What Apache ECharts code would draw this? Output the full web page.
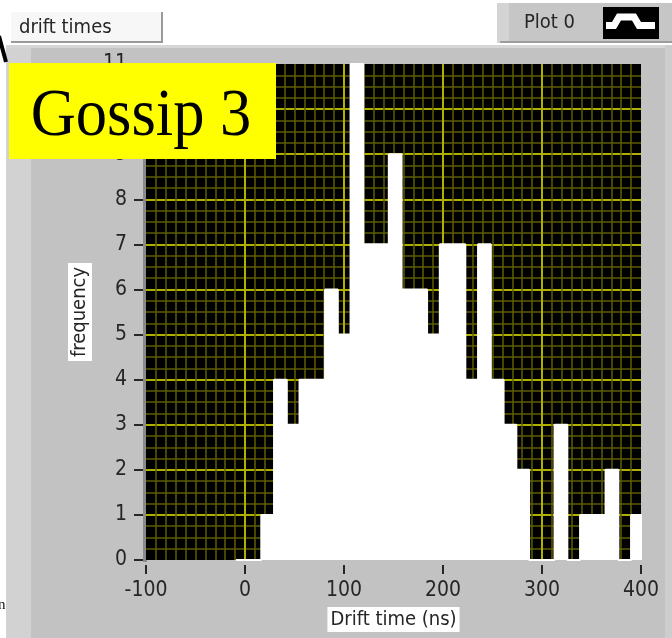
<!DOCTYPE html>
<html>
<head>
<meta charset="utf-8">
<script src="https://cdn.jsdelivr.net/npm/echarts@6/dist/echarts.min.js"></script>
<style>
  html, body { margin: 0; padding: 0; background: #fff; }
  #chart { width: 672px; height: 638px; }
</style>
</head>
<body>
<div id="chart"></div>
<script>
// Drift-time histogram, counts per TDC bin (ns)
const binStart = -9.3;      // left edge of the first bin
const binWidth = 12.88;     // bin width
const counts = [0, 0, 1, 4, 3, 4, 4, 6, 5, 11, 7, 7, 9, 6, 6, 5, 7, 7, 4, 7, 4, 3, 2, 0, 0, 3, 0, 1, 1, 2, 0, 1];

// Axis tick labels
const xTickLabels = [-100, 0, 100, 200, 300, 400];
const yTickLabels = [0, 1, 2, 3, 4, 5, 6, 7, 8, 9, 10, 11];

// Step outline: each bin's left edge carries its count, closed at the last right edge
const stepData = counts.map((c, i) => [binStart + i * binWidth, c]);
stepData.push([binStart + counts.length * binWidth, counts[counts.length - 1]]);

const uiFont = "'DejaVu Sans Condensed', 'DejaVu Sans', 'Liberation Sans', sans-serif";
const inkColor = '#262626';
const majorGrid = '#b0b000';
const minorGrid = '#5e5e00';

const chart = echarts.init(document.getElementById('chart'), null, { renderer: 'canvas' });

chart.setOption({
  animation: false,
  backgroundColor: '#ffffff',
  graphic: [
    // grey front-panel frame
    { type: 'rect', z: -100, shape: { x: 6, y: 45, width: 666, height: 593 }, style: { fill: '#c2c2c2' } },
    { type: 'rect', z: -99, shape: { x: 6, y: 45, width: 25, height: 593 }, style: { fill: '#d2d2d2' } },
    { type: 'rect', z: -99, shape: { x: 6, y: 45, width: 666, height: 3 }, style: { fill: '#d6d6d6' } },
    { type: 'rect', z: -99, shape: { x: 665, y: 45, width: 7, height: 593 }, style: { fill: '#cdcdcd' } },
    // plot-area inset edge on the left
    { type: 'rect', z: -98, shape: { x: 143, y: 63, width: 4, height: 499 }, style: { fill: '#8a8a8a' } },

    // caption box
    { type: 'rect', z: 10, shape: { x: 11, y: 12, width: 152, height: 31 }, style: { fill: '#f7f7f7' } },
    { type: 'rect', z: 11, shape: { x: 161, y: 12, width: 2, height: 31 }, style: { fill: '#9a9a9a' } },
    { type: 'rect', z: 11, shape: { x: 11, y: 41, width: 152, height: 2 }, style: { fill: '#9a9a9a' } },
    { type: 'text', z: 12, x: 19, y: 28, style: { text: 'drift times', font: '20px ' + uiFont, fill: inkColor, verticalAlign: 'middle' } },

    // plot legend box
    { type: 'rect', z: 10, shape: { x: 497, y: 3, width: 175, height: 40 }, style: { fill: '#c6c6c6' } },
    { type: 'rect', z: 11, shape: { x: 497, y: 3, width: 12, height: 40 }, style: { fill: '#d4d4d4' } },
    { type: 'rect', z: 11, shape: { x: 500, y: 41, width: 172, height: 2 }, style: { fill: '#9c9c9c' } },
    { type: 'text', z: 12, x: 524, y: 23, style: { text: 'Plot 0', font: '20px ' + uiFont, fill: inkColor, verticalAlign: 'middle' } },
    { type: 'rect', z: 12, shape: { x: 603, y: 7, width: 56, height: 32 }, style: { fill: '#000' } },
    { type: 'polyline', z: 13, shape: { points: [[606, 25.5], [614, 25.5], [619, 17], [634, 17], [639, 25.5], [655, 25.5]] },
      style: { stroke: '#fff', lineWidth: 7, fill: null, lineJoin: 'miter' } },

    // slide fragments at the left margin
    { type: 'line', z: 20, shape: { x1: -1, y1: 36, x2: 6, y2: 62 }, style: { stroke: '#000', lineWidth: 4 } },
    { type: 'text', z: 20, x: -2, y: 605, style: { text: 'n', font: '15px "Liberation Serif", serif', fill: '#111', verticalAlign: 'middle' } },

    // title badge
    { type: 'rect', z: 50, shape: { x: 9, y: 63, width: 267, height: 96 }, style: { fill: '#ffff00' } },
    { type: 'text', z: 51, x: 141, y: 117, scaleX: 0.92,
      style: { text: 'Gossip 3', font: '68px "Liberation Serif", "Times New Roman", serif', fill: '#000', align: 'center', verticalAlign: 'middle' } }
  ],
  grid: {
    left: 146, right: 31, top: 64, bottom: 78,
    show: true, backgroundColor: '#000000', borderWidth: 0, containLabel: false
  },
  xAxis: {
    type: 'value',
    min: xTickLabels[0],
    max: xTickLabels[xTickLabels.length - 1],
    interval: xTickLabels[1] - xTickLabels[0],
    offset: 5,
    axisLine: { show: true, onZero: false, lineStyle: { color: 'rgba(0,0,0,0)' } },
    axisTick: { show: true, inside: false, length: 9, lineStyle: { color: inkColor, width: 2 } },
    axisLabel: { margin: 15, fontSize: 21, fontFamily: uiFont, color: inkColor },
    splitLine: { show: true, showMinLine: false, showMaxLine: false, lineStyle: { color: majorGrid, width: 2, opacity: 1 } },
    minorTick: { show: false, splitNumber: 10 },
    minorSplitLine: { show: true, lineStyle: { color: minorGrid, width: 1.5, opacity: 1 } },
    name: 'Drift time (ns)',
    nameLocation: 'middle',
    nameGap: 42,
    nameTextStyle: { fontSize: 20, fontFamily: uiFont, color: inkColor, backgroundColor: '#ffffff', padding: [3, 3, 2, 3] }
  },
  yAxis: {
    type: 'value',
    min: yTickLabels[0],
    max: yTickLabels[yTickLabels.length - 1],
    interval: yTickLabels[1] - yTickLabels[0],
    offset: 3,
    axisLine: { show: true, onZero: false, lineStyle: { color: 'rgba(0,0,0,0)' } },
    axisTick: { show: true, inside: false, length: 9, lineStyle: { color: inkColor, width: 2 } },
    axisLabel: { margin: 16, fontSize: 21, fontFamily: uiFont, color: inkColor },
    splitLine: { show: true, showMinLine: false, showMaxLine: false, lineStyle: { color: majorGrid, width: 2, opacity: 1 } },
    minorTick: { show: false, splitNumber: 4 },
    minorSplitLine: { show: true, lineStyle: { color: minorGrid, width: 1.5, opacity: 1 } },
    name: 'frequency',
    nameLocation: 'middle',
    nameRotate: 90,
    nameGap: 51,
    nameTextStyle: { fontSize: 20, fontFamily: uiFont, color: inkColor, backgroundColor: '#ffffff', padding: [2, 4, 2, 4] }
  },
  series: [{
    type: 'line',
    data: stepData,
    step: 'end',
    symbol: 'none',
    silent: true,
    lineStyle: { color: '#ffffff', width: 2 },
    areaStyle: { color: '#ffffff', opacity: 1 }
  }]
});
</script>
</body>
</html>
